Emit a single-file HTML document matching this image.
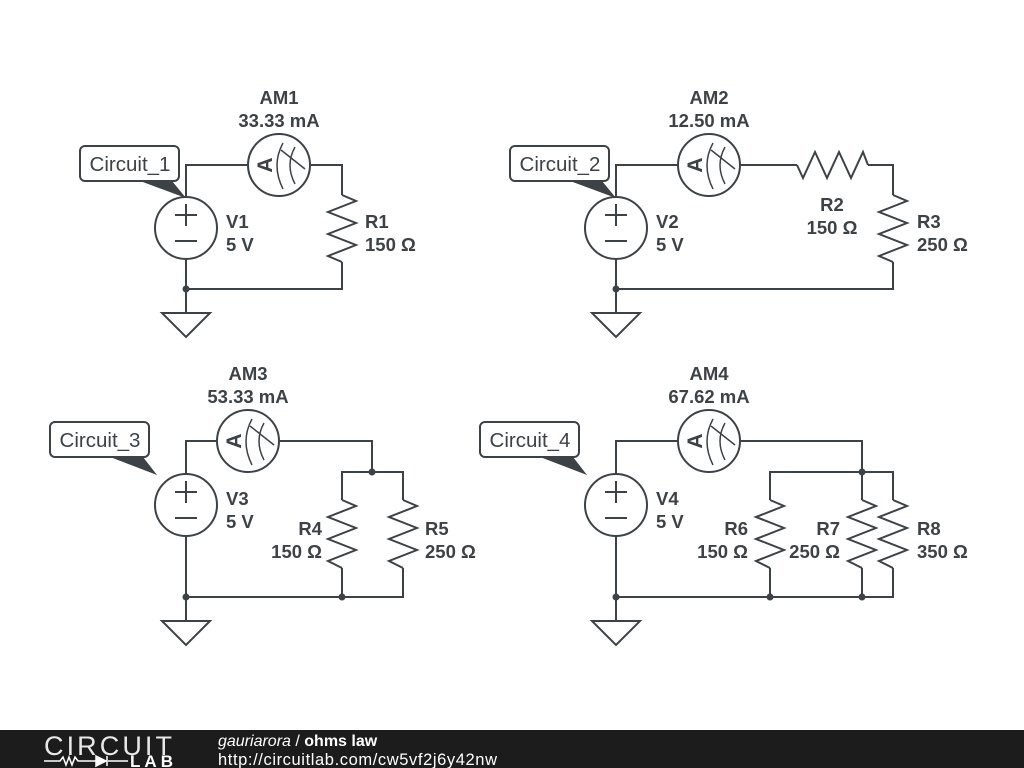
<!DOCTYPE html>
<html><head><meta charset="utf-8"><style>
html,body{margin:0;padding:0;background:#fff;width:1024px;height:768px;overflow:hidden}
svg text{font-family:"Liberation Sans",sans-serif;font-weight:bold;font-size:18.5px;fill:#3d4246}
</style></head><body>
<svg width="1024" height="768" viewBox="0 0 1024 768" xmlns="http://www.w3.org/2000/svg">
<g fill="none" stroke="#3d4246" stroke-width="2" stroke-linejoin="miter">
<path d="M186,197 V165 H248 M310,165 H342 V195 M342,262 V289 H186 V259 M186,289 V313"/>
<path d="M342,195 L356,201 L328,212 L356,223 L328,234 L356,245 L328,256 L342,262"/>
<circle cx="186" cy="228" r="31"/>
<path d="M162,313 H210 L186,337 Z"/>
<path d="M616,197 V165 H678 M740,165 H797 M868,165 H893 V195 M893,262 V289 H616 V259 M616,289 V313"/>
<path d="M797,165 L803,178 L815,152 L827,178 L839,152 L851,178 L863,152 L868,165"/>
<path d="M893,195 L907,201 L879,212 L907,223 L879,234 L907,245 L879,256 L893,262"/>
<circle cx="616" cy="228" r="31"/>
<path d="M592,313 H640 L616,337 Z"/>
<path d="M186,474 V441 H217 M279,441 H372 V472 M342,500 V472 H403 V500 M342,568 V597 M403,568 V597 H186 V536 M186,597 V621"/>
<path d="M342,500 L356,506 L328,517 L356,528 L328,539 L356,550 L328,561 L342,568"/>
<path d="M403,500 L417,506 L389,517 L417,528 L389,539 L417,550 L389,561 L403,568"/>
<circle cx="186" cy="505" r="31"/>
<path d="M162,621 H210 L186,645 Z"/>
<path d="M616,474 V441 H678 M740,441 H862 V472 M770,500 V472 H893 V500 M862,472 V500 M770,568 V597 M862,568 V597 M893,568 V597 H616 V536 M616,597 V621"/>
<path d="M770,500 L784,506 L756,517 L784,528 L756,539 L784,550 L756,561 L770,568"/>
<path d="M862,500 L876,506 L848,517 L876,528 L848,539 L876,550 L848,561 L862,568"/>
<path d="M893,500 L907,506 L879,517 L907,528 L879,539 L907,550 L879,561 L893,568"/>
<circle cx="616" cy="505" r="31"/>
<path d="M592,621 H640 L616,645 Z"/>
</g>
<g stroke="#3d4246" stroke-width="2">
<path d="M175,215 H197 M186,204 V226 M175,241 H197"/>
<path d="M605,215 H627 M616,204 V226 M605,241 H627"/>
<path d="M175,492 H197 M186,481 V503 M175,518 H197"/>
<path d="M605,492 H627 M616,481 V503 M605,518 H627"/>
</g>
<g fill="#3d4246">
<circle cx="186" cy="289" r="3.5"/><circle cx="616" cy="289" r="3.5"/>
<circle cx="186" cy="597" r="3.5"/><circle cx="342" cy="597" r="3.5"/><circle cx="372" cy="472" r="3.5"/>
<circle cx="616" cy="597" r="3.5"/><circle cx="770" cy="597" r="3.5"/><circle cx="862" cy="597" r="3.5"/><circle cx="862" cy="472" r="3.5"/>
</g>
<g transform="translate(279,165)" fill="none" stroke="#3d4246" stroke-width="2"><circle r="31" fill="#fff"/><path d="M4,-22 Q-8,0 4,24 M16,-18 Q6,0 16,19" stroke-width="1.5"/><path d="M2,-15 L26,4" stroke-width="1.5"/><text transform="translate(-14,0) rotate(-90)" text-anchor="middle" dy="7" stroke="none" style="font-size:21px">A</text></g>
<g transform="translate(709,165)" fill="none" stroke="#3d4246" stroke-width="2"><circle r="31" fill="#fff"/><path d="M4,-22 Q-8,0 4,24 M16,-18 Q6,0 16,19" stroke-width="1.5"/><path d="M2,-15 L26,4" stroke-width="1.5"/><text transform="translate(-14,0) rotate(-90)" text-anchor="middle" dy="7" stroke="none" style="font-size:21px">A</text></g>
<g transform="translate(248,441)" fill="none" stroke="#3d4246" stroke-width="2"><circle r="31" fill="#fff"/><path d="M4,-22 Q-8,0 4,24 M16,-18 Q6,0 16,19" stroke-width="1.5"/><path d="M2,-15 L26,4" stroke-width="1.5"/><text transform="translate(-14,0) rotate(-90)" text-anchor="middle" dy="7" stroke="none" style="font-size:21px">A</text></g>
<g transform="translate(709,441)" fill="none" stroke="#3d4246" stroke-width="2"><circle r="31" fill="#fff"/><path d="M4,-22 Q-8,0 4,24 M16,-18 Q6,0 16,19" stroke-width="1.5"/><path d="M2,-15 L26,4" stroke-width="1.5"/><text transform="translate(-14,0) rotate(-90)" text-anchor="middle" dy="7" stroke="none" style="font-size:21px">A</text></g>
<g stroke="#3d4246" stroke-width="2" fill="#fff">
<rect x="80" y="146" width="99" height="35" rx="5"/>
<rect x="510" y="146" width="99" height="35" rx="5"/>
<rect x="50" y="422" width="99" height="35" rx="5"/>
<rect x="480" y="422" width="99" height="35" rx="5"/>
</g>
<g fill="#3d4246">
<path d="M140,181 L172,181 L186,198 Z"/>
<path d="M570,181 L602,181 L616,198 Z"/>
<path d="M110,457 L143,457 L157,475 Z"/>
<path d="M540,457 L573,457 L587,475 Z"/>
</g>
<g style="font-weight:normal">
<text x="130" y="171" text-anchor="middle" style="font-weight:normal;font-size:20.5px">Circuit_1</text>
<text x="560" y="171" text-anchor="middle" style="font-weight:normal;font-size:20.5px">Circuit_2</text>
<text x="100" y="447" text-anchor="middle" style="font-weight:normal;font-size:20.5px">Circuit_3</text>
<text x="530" y="447" text-anchor="middle" style="font-weight:normal;font-size:20.5px">Circuit_4</text>
</g>
<text x="279" y="104" text-anchor="middle">AM1</text><text x="279" y="127" text-anchor="middle">33.33 mA</text>
<text x="709" y="104" text-anchor="middle">AM2</text><text x="709" y="127" text-anchor="middle">12.50 mA</text>
<text x="248" y="380" text-anchor="middle">AM3</text><text x="248" y="403" text-anchor="middle">53.33 mA</text>
<text x="709" y="380" text-anchor="middle">AM4</text><text x="709" y="403" text-anchor="middle">67.62 mA</text>
<text x="226" y="228">V1</text><text x="226" y="251">5 V</text>
<text x="656" y="228">V2</text><text x="656" y="251">5 V</text>
<text x="226" y="505">V3</text><text x="226" y="528">5 V</text>
<text x="656" y="505">V4</text><text x="656" y="528">5 V</text>
<text x="365" y="228">R1</text><text x="365" y="251">150 Ω</text>
<text x="832" y="211" text-anchor="middle">R2</text><text x="832" y="234" text-anchor="middle">150 Ω</text>
<text x="917" y="228">R3</text><text x="917" y="251">250 Ω</text>
<text x="322" y="535" text-anchor="end">R4</text><text x="322" y="558" text-anchor="end">150 Ω</text>
<text x="425" y="535">R5</text><text x="425" y="558">250 Ω</text>
<text x="748" y="535" text-anchor="end">R6</text><text x="748" y="558" text-anchor="end">150 Ω</text>
<text x="840" y="535" text-anchor="end">R7</text><text x="840" y="558" text-anchor="end">250 Ω</text>
<text x="917" y="535">R8</text><text x="917" y="558">350 Ω</text>
<rect x="0" y="730" width="1024" height="38" fill="#1c1c1c"/>
<text x="44" y="755" textLength="128" style="font-weight:normal;font-size:27px;fill:#e8e8e8">CIRCUIT</text>
<path d="M44,761 H60 L63,757 L66,765 L69,757 L72,765 L75,757 L78,761 H96 M108,761 H128" stroke="#fff" stroke-width="1.5" fill="none"/>
<path d="M96,756 L106,761 L96,766 Z M107,756 V766" fill="#fff" stroke="#fff" stroke-width="1.5"/>
<text x="130" y="767" textLength="43" style="font-size:17px;fill:#fff">LAB</text>
<text x="218" y="746" style="font-weight:normal;font-style:italic;font-size:16px;fill:#fff">gauriarora <tspan font-style="normal">/</tspan> <tspan font-weight="bold" font-style="normal">ohms law</tspan></text>
<text x="218" y="765" textLength="279" style="font-weight:normal;font-size:16.5px;fill:#fff">http://circuitlab.com/cw5vf2j6y42nw</text>
</svg>
</body></html>
